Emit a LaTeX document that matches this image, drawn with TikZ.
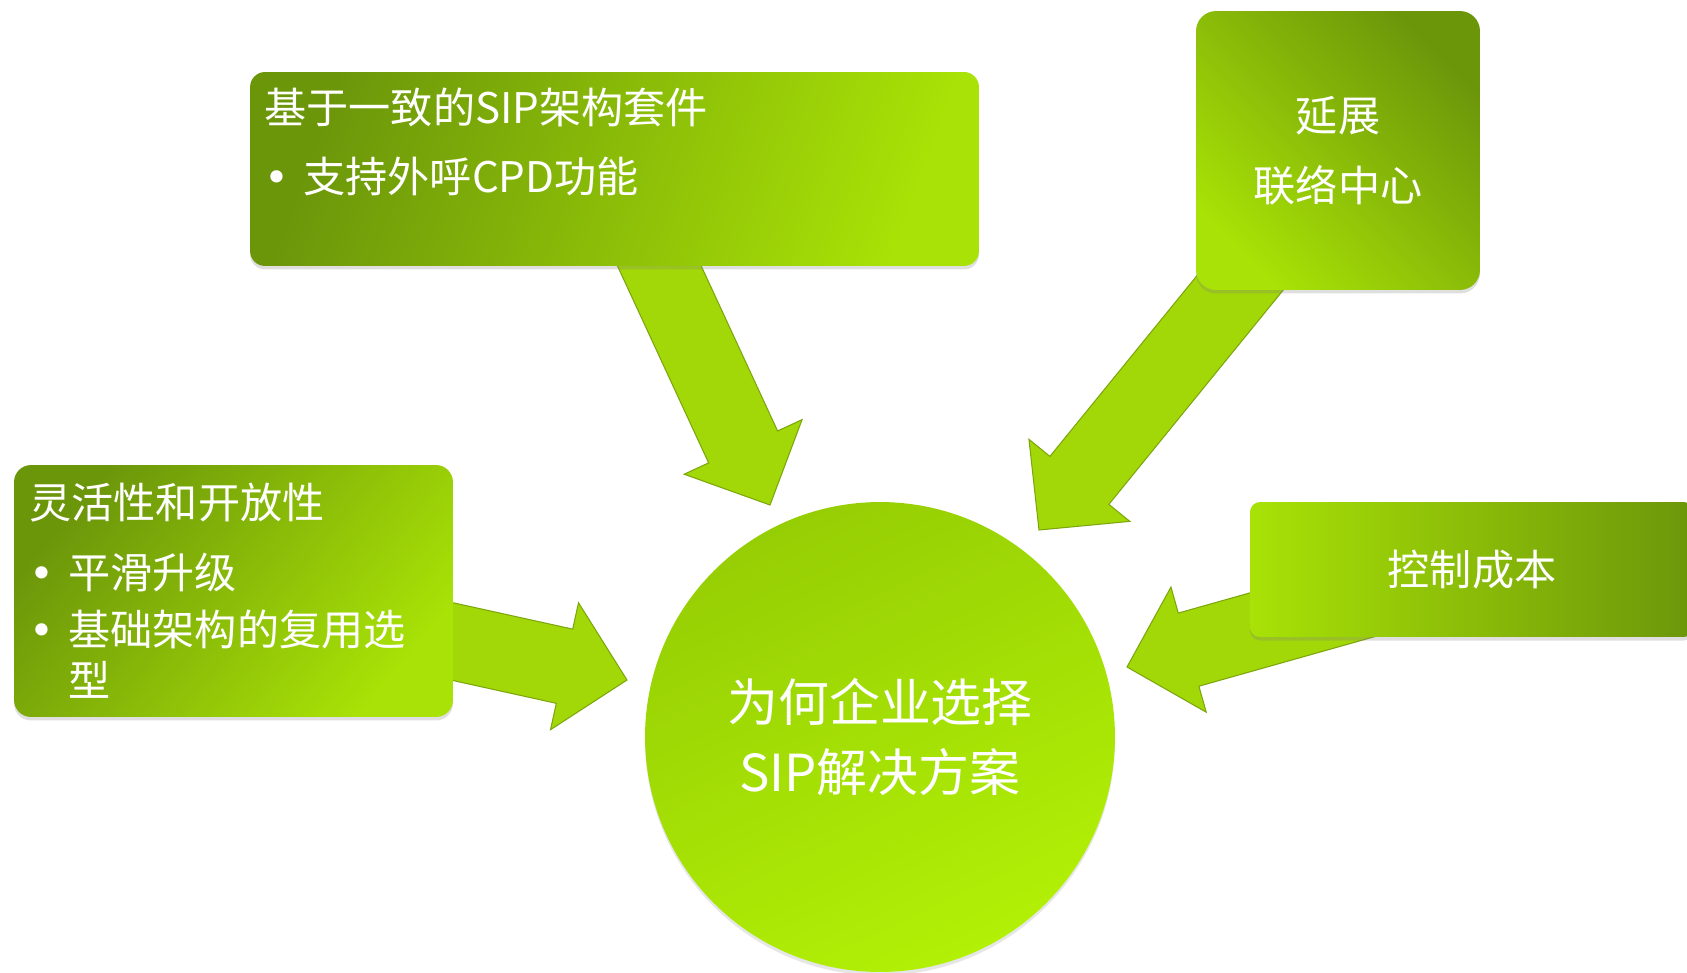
\documentclass[tikz,border=0pt]{standalone}
\usepackage{fontspec}
\setmainfont{Noto Sans CJK SC}
\newfontfamily\dotfont{DejaVu Sans}
\usetikzlibrary{calc,shadows}

\definecolor{leafdark}{RGB}{108,150,10}
\definecolor{leaflight}{RGB}{168,226,6}
\definecolor{hubtop}{RGB}{150,206,4}
\definecolor{hubbottom}{RGB}{178,240,6}
\definecolor{arrowfill}{RGB}{162,216,8}
\definecolor{arrowrim}{RGB}{124,166,12}

\newcommand{\blockarrow}[2]{%
  \coordinate (#1-h) at ($(#2)!1.28cm!(#1)$);
  \filldraw[arrowbody] ($(#1)!0.76cm!90:(#2)$) -- ($(#1-h)!0.76cm!90:(#2)$)
    -- ($(#1-h)!1.3cm!90:(#2)$) -- (#2) -- ($(#1-h)!1.3cm!-90:(#2)$)
    -- ($(#1-h)!0.76cm!-90:(#2)$) -- ($(#1)!0.76cm!-90:(#2)$) -- cycle;}
\newcommand{\leafdot}{\makebox[0.78cm][l]{\dotfont•}}

\begin{document}
\begin{tikzpicture}[x=0.02cm, y=-0.02cm,
  box/.style={inner sep=0pt, outer sep=0pt, top color=leafdark, bottom color=leaflight,
    drop shadow={opacity=0.25, shadow xshift=0pt, shadow yshift=-2pt}},
  arrowbody/.style={fill=arrowfill, draw=arrowrim, line width=0.6pt, line join=miter},
  boxtext/.style={text=white, inner sep=0pt, font=\fontsize{24}{28.5}\selectfont},
  hubtext/.style={text=white, font=\fontsize{29}{39.8}\selectfont}]
\useasboundingbox (0,0) rectangle (1687,973);

\coordinate (kit-tail) at (645,235);
\coordinate (kit-tip) at (770,505);
\coordinate (extend-tail) at (1266,251);
\coordinate (extend-tip) at (1039,530);
\coordinate (flex-tail) at (373,624);
\coordinate (flex-tip) at (627,680);
\coordinate (cost-tail) at (1464,572);
\coordinate (cost-tip) at (1127,667);

\blockarrow{kit-tail}{kit-tip}
\blockarrow{extend-tail}{extend-tip}
\blockarrow{flex-tail}{flex-tip}
\blockarrow{cost-tail}{cost-tip}

\node[box, shading angle=70, rounded corners=0.3cm, minimum width=14.58cm, minimum height=3.88cm] (kit) at (614.5,169) {};
\node[box, shading angle=-45, rounded corners=0.4cm, minimum width=5.68cm, minimum height=5.58cm,
  boxtext, align=center] (extend) at (1338,150.5) {延展\\[11.4pt]联络中心};
\node[box, shading angle=50, rounded corners=0.34cm, minimum width=8.78cm, minimum height=5.04cm] (flex) at (233.5,591) {};
\node[box, shading angle=-90, rounded corners=0.2cm, minimum width=8.88cm, minimum height=2.7cm,
  boxtext] (cost) at (1472,569.5) {控制成本};
\node[circle, inner sep=0pt, minimum size=9.4cm, top color=hubtop, bottom color=hubbottom, shading angle=25,
  drop shadow={opacity=0.2, shadow xshift=0pt, shadow yshift=-2pt},
  hubtext, align=center] (hub) at (880,737) {为何企业选择\\SIP解决方案};

\node[boxtext, align=left, anchor=base west] (kittext) at (264,193)
  {基于一致的SIP架构套件\\[10.8pt]\leafdot 支持外呼CPD功能};
\node[boxtext, align=left, anchor=base west] (flextext) at (29,696)
  {灵活性和开放性\\[11.4pt]\leafdot 平滑升级\\[4pt]\leafdot 基础架构的复用选\\\hspace*{0.78cm}型};
\end{tikzpicture}
\end{document}
